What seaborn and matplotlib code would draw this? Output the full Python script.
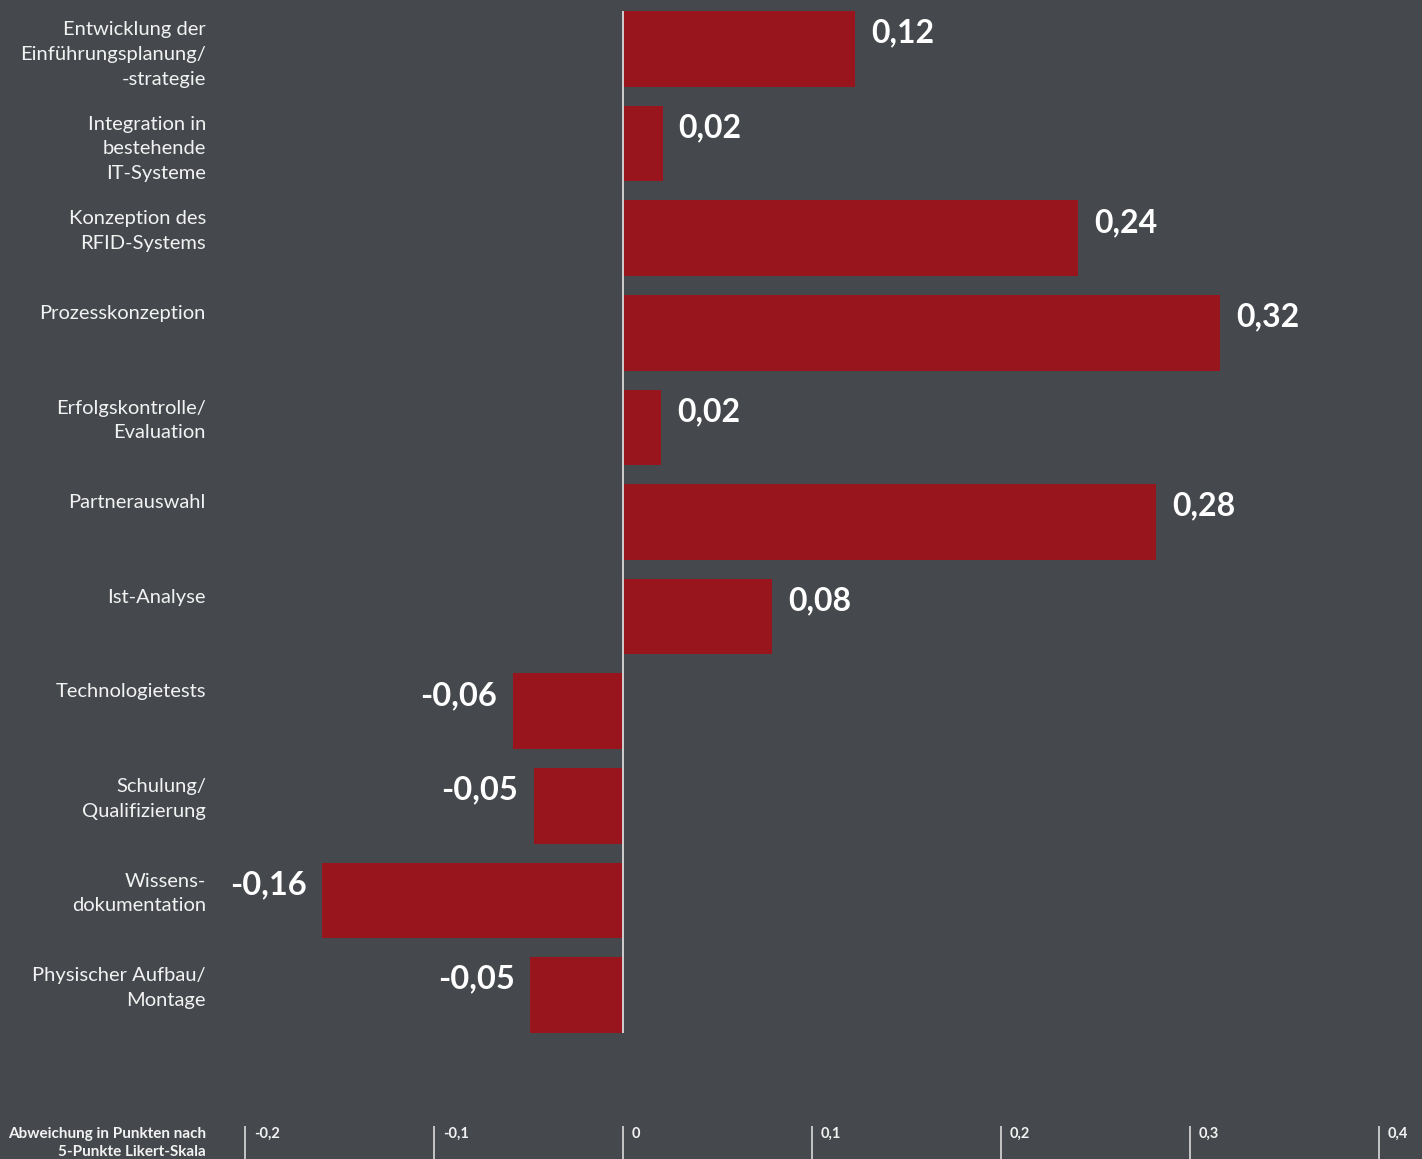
import numpy as np
import pandas as pd
import matplotlib
matplotlib.use("Agg")
import matplotlib.pyplot as plt
import seaborn as sns

# data
categories = [
    "Entwicklung der\nEinführungsplanung/\n-strategie",
    "Integration in\nbestehende\nIT-Systeme",
    "Konzeption des\nRFID-Systems",
    "Prozesskonzeption",
    "Erfolgskontrolle/\nEvaluation",
    "Partnerauswahl",
    "Ist-Analyse",
    "Technologietests",
    "Schulung/\nQualifizierung",
    "Wissens-\ndokumentation",
    "Physischer Aufbau/\nMontage",
]
values = [0.123, 0.021, 0.241, 0.316, 0.020, 0.282, 0.079, -0.058, -0.047, -0.159, -0.049]
value_labels = ["0,12", "0,02", "0,24", "0,32", "0,02", "0,28", "0,08", "-0,06", "-0,05", "-0,16", "-0,05"]
tick_values = [-0.2, -0.1, 0.0, 0.1, 0.2, 0.3, 0.4]
tick_labels = ["-0,2", "-0,1", "0", "0,1", "0,2", "0,3", "0,4"]
axis_title = "Abweichung in Punkten nach\n5-Punkte Likert-Skala"

BG = "#45484c"
BAR = "#99151d"
TXT = "#f2f2f2"

sns.set_theme(style="white")
plt.rcParams["font.family"] = ["Lato", "DejaVu Sans"]

df = pd.DataFrame({"Phase": categories, "Wert": values})

fig = plt.figure(figsize=(14.22, 11.59), dpi=100, facecolor=BG)
ax = fig.add_axes([0, 0, 1, 1])
ax.set_facecolor(BG)

sns.barplot(data=df, x="Wert", y="Phase", orient="h", color=BAR, saturation=1,
            width=0.8, linewidth=0, edgecolor=BAR, ax=ax)

# pixel scale: 0 at x=623, 189 px per 0.1; bar pitch ~94.6 px
px_x = 1890.0
px_y = 94.6
xmin = -623 / px_x
xmax = (1422 - 623) / px_x
ymin = -49 / px_y
ymax = (1159 - 49) / px_y
ax.set_xlim(xmin, xmax)
ax.set_ylim(ymax, ymin)

# zero line
ax.vlines(0, -0.4, 10.4, color="#cfcfcf", linewidth=1.4, zorder=3)

# category labels (top aligned with bars)
lab_x = xmin + 206 / px_x
for i, cat in enumerate(categories):
    ax.text(lab_x, i - 0.4 + 10 / px_y, cat, ha="right", va="top", color=TXT,
            fontsize=14.5, linespacing=1.55)

# value labels
for i, (v, lab) in enumerate(zip(values, value_labels)):
    off = 16 / px_x
    if v >= 0:
        ax.text(v + off, i - 0.4 + 22 / px_y, lab, ha="left", va="center",
                color="white", fontsize=23, fontweight="bold")
    else:
        ax.text(v - off, i - 0.4 + 22 / px_y, lab, ha="right", va="center",
                color="white", fontsize=23.5, fontweight="bold")

# bottom scale
ax.set_xticks(tick_values)
ax.set_xticklabels([])
ax.set_yticks([])
ax.tick_params(axis="x", direction="in", length=24, width=1.3, color="#cfcfcf",
               bottom=True, top=False)
tick_y = (1134 - 49) / px_y
for t, lab in zip(tick_values, tick_labels):
    ax.text(t + 9 / px_x, tick_y, lab, ha="left", va="center", color=TXT,
            fontsize=10.5, fontweight="bold")
ax.text(lab_x, (1143 - 49) / px_y, axis_title, ha="right", va="center", color=TXT,
        fontsize=11, fontweight="bold", linespacing=1.3)

ax.set_xlabel("")
ax.set_ylabel("")
for s in ax.spines.values():
    s.set_visible(False)

fig.savefig("out.png", dpi=100, facecolor=BG)
plt.close()
